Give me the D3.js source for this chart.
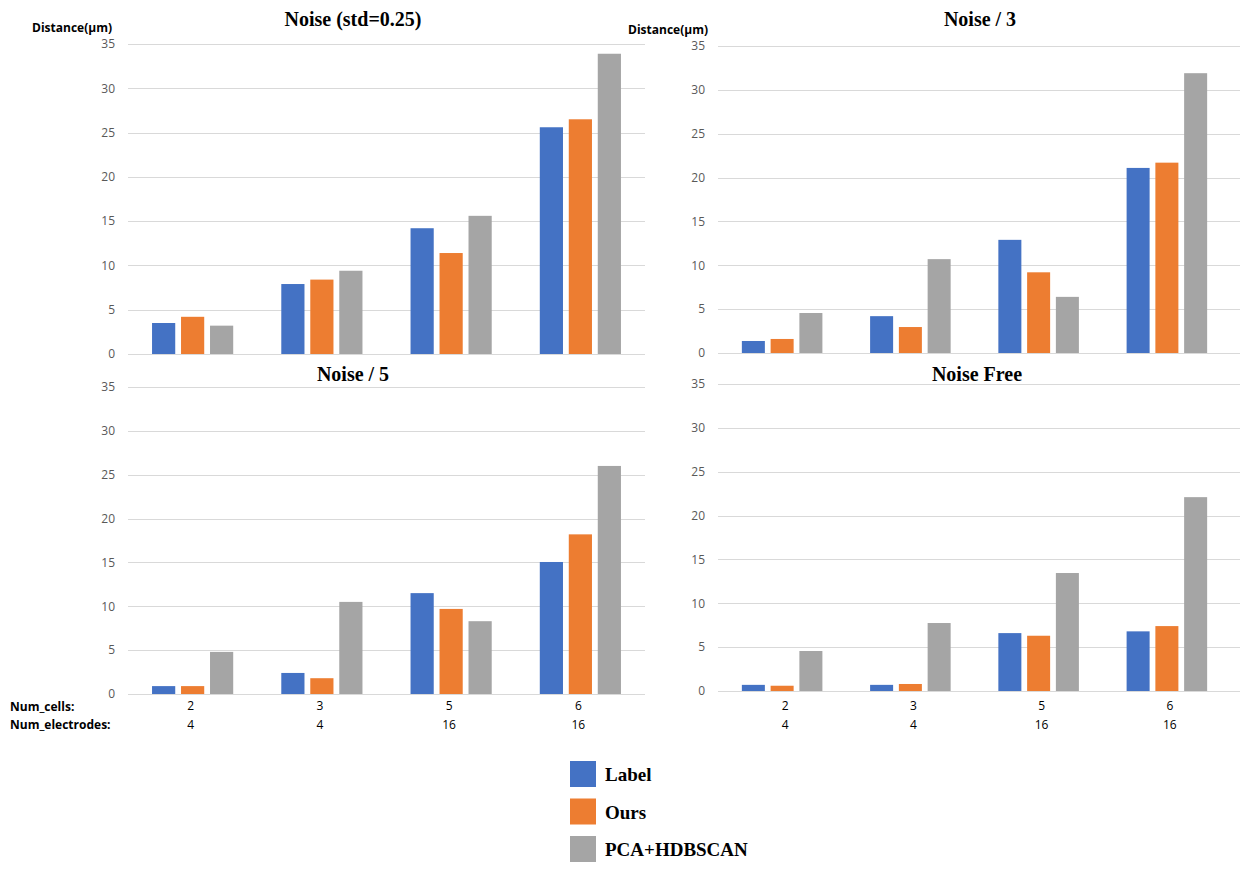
<!DOCTYPE html>
<html><head><meta charset="utf-8">
<script src="https://cdn.jsdelivr.net/npm/d3@7"></script>
<style>body{margin:0;background:#fff;}svg{display:block;}</style>
</head><body>
<svg id="c" width="1245" height="873"></svg>
<script>
const cells = ["2","3","5","6"];
const electrodes = ["4","4","16","16"];
const series = ["Label","Ours","PCA+HDBSCAN"];
const colors = ["#4472C4","#ED7D31","#A5A5A5"];
const yTicks = [0,5,10,15,20,25,30,35];

const noiseStd = { Label:[3.5,7.9,14.2,25.6], Ours:[4.2,8.4,11.4,26.5], "PCA+HDBSCAN":[3.2,9.4,15.6,33.9] };
const noise3   = { Label:[1.37,4.2,12.9,21.1], Ours:[1.6,2.96,9.2,21.7], "PCA+HDBSCAN":[4.56,10.7,6.4,31.9] };
const noise5   = { Label:[0.9,2.4,11.5,15.05], Ours:[0.9,1.8,9.7,18.2], "PCA+HDBSCAN":[4.8,10.5,8.3,26.0] };
const noiseFree= { Label:[0.7,0.7,6.6,6.8], Ours:[0.6,0.8,6.3,7.4], "PCA+HDBSCAN":[4.56,7.75,13.45,22.1] };

const titles = ["Noise (std=0.25)","Noise / 3","Noise / 5","Noise Free"];

const svg = d3.select("#c");

const panels = [
  {data:noiseStd, title:titles[0], x0:128, x1:645, bx1:645, y0:354, y1:44, ylab:true, xlab:false, tx:353, ty:26, lx:112},
  {data:noise3, title:titles[1], x0:718, x1:1240, bx1:1231, y0:353, y1:46, ylab:true, xlab:false, tx:980, ty:26, lx:708},
  {data:noise5, title:titles[2], x0:128, x1:645, bx1:645, y0:694, y1:387, ylab:false, xlab:true, tx:353, ty:381, xo:-2},
  {data:noiseFree, title:titles[3], x0:718, x1:1240, bx1:1231, y0:691, y1:384, ylab:false, xlab:true, tx:977, ty:381, xo:3}
];
const xLabY = 701;

panels.forEach((p,pi)=>{
  const g = svg.append("g");
  const y = d3.scaleLinear().domain([0,35]).range([p.y0,p.y1]);
  const x = d3.scaleBand().domain(cells.map((c,i)=>i)).range([p.x0,p.bx1]).paddingInner(0.372).paddingOuter(0.186);
  const xs = d3.scaleBand().domain(series).range([0,x.bandwidth()]).paddingInner(0.2);

  // grid
  g.append("g").selectAll("line").data(yTicks).join("line")
    .attr("x1",p.x0).attr("x2",p.x1)
    .attr("y1",d=>Math.round(y(d))+0.5).attr("y2",d=>Math.round(y(d))+0.5)
    .attr("stroke","#d9d9d9").attr("stroke-width",1);

  // y axis labels
  const ya = d3.axisLeft(y).tickValues(yTicks).tickSize(0).tickPadding(0);
  const yg = g.append("g").attr("transform",`translate(${p.x0-13},0)`).call(ya);
  yg.select(".domain").remove();
  yg.selectAll("text").attr("fill","#595959").attr("font-family","'Open Sans', sans-serif").attr("font-size","12px");

  // bars
  series.forEach((s,si)=>{
    g.append("g").selectAll("rect").data(p.data[s]).join("rect")
      .attr("x",(d,i)=>x(i)+xs(s))
      .attr("width",xs.bandwidth())
      .attr("y",d=>y(d))
      .attr("height",d=>y(0)-y(d))
      .attr("fill",colors[si]);
  });

  // title
  g.append("text").attr("x",p.tx).attr("y",p.ty).attr("text-anchor","middle")
    .attr("font-family","'Liberation Serif', 'Times New Roman', serif").attr("font-weight","bold")
    .attr("font-size","20px").attr("fill","#000").text(p.title);

  if(p.ylab){
    g.append("text").attr("x",p.lx).attr("y",p.y1-12).attr("text-anchor","end")
      .attr("font-family","'Open Sans', sans-serif").attr("font-weight","bold")
      .attr("font-size","12px").attr("fill","#000").text("Distance(\u03bcm)");
  }

  if(p.xlab){
    const xa = d3.axisBottom(x).tickFormat(i=>cells[i]).tickSize(0).tickPadding(0);
    const xg = g.append("g").attr("transform",`translate(${p.xo},${xLabY})`).call(xa);
    xg.select(".domain").remove();
    xg.selectAll("text").attr("fill","#000").attr("font-family","'Open Sans', sans-serif").attr("font-size","12px").attr("dy","0.71em");
    g.append("g").selectAll("text").data(electrodes).join("text")
      .attr("x",(d,i)=>x(i)+x.bandwidth()/2+p.xo).attr("y",xLabY+28).attr("text-anchor","middle")
      .attr("font-family","'Open Sans', sans-serif").attr("font-size","12px").attr("fill","#000").text(d=>d);
  }

  if(pi===2){
    g.append("text").attr("x",10).attr("y",xLabY+10).attr("font-family","'Open Sans', sans-serif")
      .attr("font-weight","bold").attr("font-size","12px").text("Num_cells:");
    g.append("text").attr("x",10).attr("y",xLabY+28).attr("font-family","'Open Sans', sans-serif")
      .attr("font-weight","bold").attr("font-size","12px").text("Num_electrodes:");
  }
});

// legend
const lg = svg.append("g");
series.forEach((s,i)=>{
  const yy = 761 + i*37.5;
  lg.append("rect").attr("x",570).attr("y",yy).attr("width",26).attr("height",26).attr("fill",colors[i]);
  lg.append("text").attr("x",605).attr("y",yy+20).attr("font-family","'Liberation Serif', 'Times New Roman', serif")
    .attr("font-weight","bold").attr("font-size","19px").attr("fill","#000").text(s);
});
</script>
</body></html>
